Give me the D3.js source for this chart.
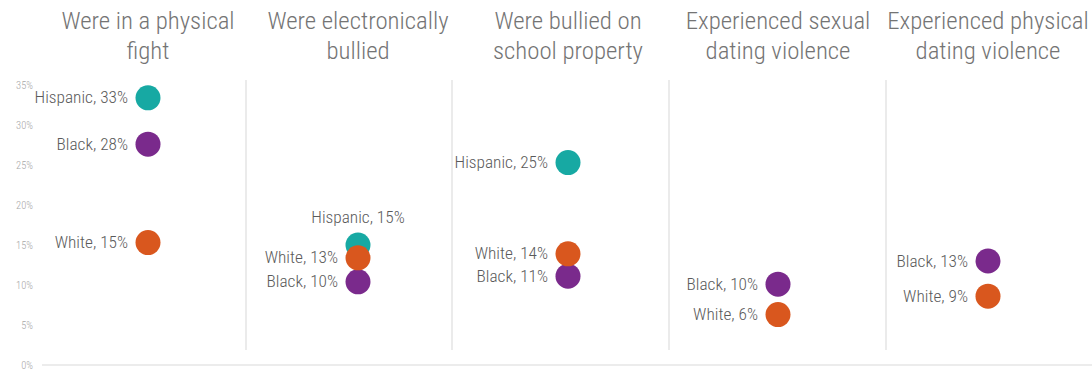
<!DOCTYPE html>
<html><head><meta charset="utf-8">
<script src="https://cdn.jsdelivr.net/npm/d3@7"></script>
<style>
html,body{margin:0;padding:0;background:#fff;}
svg{display:block;}
</style></head>
<body>
<svg id="chart" width="1092" height="373"></svg>
<script>
const categories = [
  ["Were in a physical", "fight"],
  ["Were electronically", "bullied"],
  ["Were bullied on", "school property"],
  ["Experienced sexual", "dating violence"],
  ["Experienced physical", "dating violence"]
];
const hispanic = [33.4, 15.0, 25.3, null, null];
const black    = [27.6, 10.4, 11.1, 10.1, 13.0];
const white    = [15.3, 13.4, 13.9, 6.3, 8.6];
const yTicks = [0, 5, 10, 15, 20, 25, 30, 35];
const seriesNames = ["Hispanic", "Black", "White"];
const seriesColors = ["#17a9a3", "#7a2a8c", "#d9571e"];

const svg = d3.select("#chart");
const font = "'Liberation Sans Narrow', 'Roboto Condensed', 'DejaVu Sans Condensed', sans-serif";

const y = d3.scaleLinear().domain([0, 35]).range([365, 85]);
const x = d3.scaleBand().domain(d3.range(categories.length)).range([43, 1093]);
const cx = i => x(i) + x.bandwidth() / 2;
// divider offsets relative to band boundaries (layout)
const divOffset = [0, -7, -11, -4, 3];

// baseline
svg.append("line").attr("x1", 42).attr("x2", 1092).attr("y1", y(0)).attr("y2", y(0))
  .attr("stroke", "#ececec").attr("stroke-width", 2);

// y axis
const yAxis = d3.axisLeft(y).tickValues(yTicks).tickFormat(d => d + "%").tickSize(0).tickPadding(0);
const ga = svg.append("g").attr("transform", "translate(33,0)").call(yAxis);
ga.select(".domain").remove();
ga.selectAll("text").attr("fill", "#a8a8a8").attr("font-size", 10.5).attr("font-family", font).attr("font-weight", 300);

// dividers
svg.selectAll("line.div").data(d3.range(1, categories.length)).enter().append("line")
  .attr("class", "div")
  .attr("x1", i => x(i) + divOffset[i]).attr("x2", i => x(i) + divOffset[i])
  .attr("y1", 80).attr("y2", 350)
  .attr("stroke", "#e4e4e4").attr("stroke-width", 1.5);

// titles
categories.forEach((lines, i) => {
  const t = svg.append("text").attr("text-anchor", "middle").attr("fill", "#747474")
    .attr("font-family", font).attr("font-size", 24.8).attr("font-weight", 300);
  lines.forEach((ln, k) => {
    t.append("tspan").attr("x", cx(i)).attr("y", 29 + k * 30).text(ln);
  });
});

// points
const series = [hispanic, black, white];
const points = [];
series.forEach((vals, s) => {
  vals.forEach((v, i) => {
    if (v != null) points.push({s, i, v});
  });
});
points.sort((a, b) => a.s - b.s);
svg.selectAll("circle.pt").data(points).enter().append("circle")
  .attr("class", "pt")
  .attr("cx", d => cx(d.i)).attr("cy", d => y(d.v))
  .attr("r", 12.5).attr("fill", d => seriesColors[d.s]);

// labels
const above = d => d.s === 0 && d.i === 1;
svg.selectAll("text.lbl").data(points).enter().append("text")
  .attr("class", "lbl")
  .attr("font-family", font).attr("font-size", 17.3).attr("font-weight", 300).attr("fill", "#5a5a5a")
  .attr("text-anchor", d => above(d) ? "middle" : "end")
  .attr("x", d => above(d) ? cx(d.i) : cx(d.i) - 20)
  .attr("y", d => above(d) ? y(d.v) - 22 : y(d.v) + 5.5)
  .text(d => seriesNames[d.s] + ", " + Math.round(d.v) + "%");
</script>
</body></html>
